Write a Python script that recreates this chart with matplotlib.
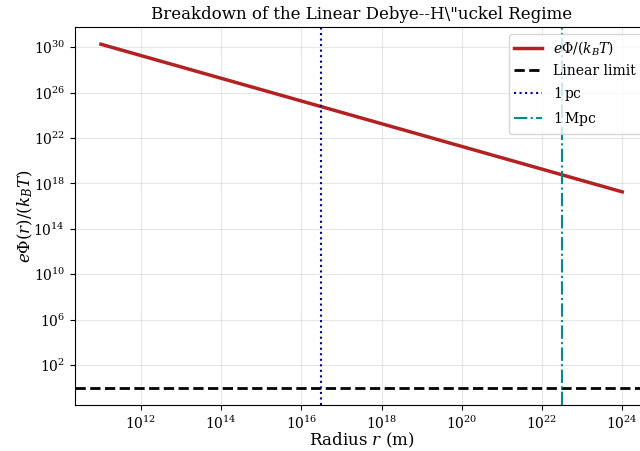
import numpy as np
import matplotlib
matplotlib.use("Agg")
import matplotlib.pyplot as plt

plt.rcParams['font.family'] = 'DejaVu Serif'
plt.rcParams['mathtext.fontset'] = 'dejavuserif'

# radius range (m) and the potential
r_vals = np.array([1e11, 1e24])
phi_vals = np.array([1.8e30, 1.8e17])
linear_limit = 1.0
pc = 3.086e16
mpc = 3.086e22

fig = plt.figure(figsize=(6.4, 4.51), dpi=100)
ax = fig.add_axes([0.117, 0.102, 0.896, 0.838])

ax.loglog(r_vals, phi_vals, color='firebrick', lw=2.5, label=r'$e\Phi/(k_BT)$')
ax.axhline(linear_limit, color='black', ls='--', lw=2, label='Linear limit')
ax.axvline(pc, color='darkblue', ls=':', lw=1.5, label=r'$1\,\mathrm{pc}$')
ax.axvline(mpc, color='darkcyan', ls='-.', lw=1.5, label=r'$1\,\mathrm{Mpc}$')

ax.set_xlabel(r'Radius $r$ (m)', fontsize=12, labelpad=-1)
ax.set_ylabel(r'$e\Phi(r)/(k_BT)$', fontsize=12, labelpad=-1)
ax.set_title('Breakdown of the Linear Debye--H\\"uckel Regime', fontsize=12)
ax.grid(True, alpha=0.3)
ax.legend(loc='upper right', fontsize=10)

fig.savefig('out.png', dpi=100)
